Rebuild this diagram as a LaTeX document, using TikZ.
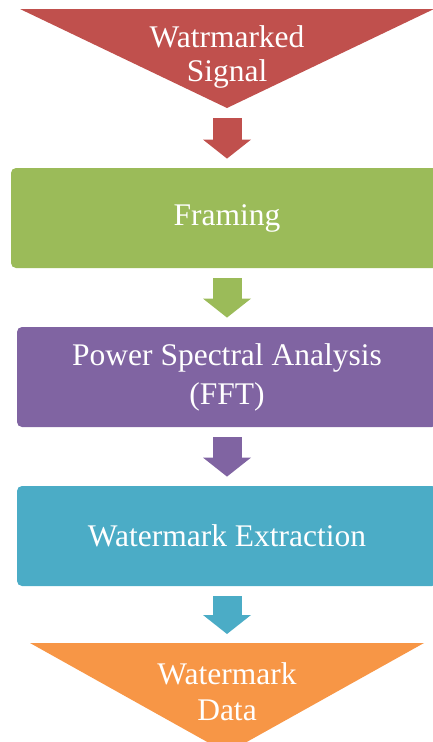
\documentclass[tikz,border=0pt]{standalone}
\usepackage{fontspec}
\setmainfont{Liberation Serif}
\usetikzlibrary{arrows.meta}

\definecolor{sigred}{HTML}{C0504D}
\definecolor{frmgreen}{HTML}{9BBB59}
\definecolor{psdpurple}{HTML}{8064A2}
\definecolor{extteal}{HTML}{4BACC6}
\definecolor{datorange}{HTML}{F79646}

\begin{document}
\begin{tikzpicture}[x=1pt, y=-1pt, thick,
    every node/.style={text=white, align=center, font=\fontsize{31.5}{35}\selectfont},
    stepbox/.style={rounded corners=5pt, minimum height=100pt},
    flow/.style={line width=29pt, shorten <=10pt, shorten >=9pt,
        -{Triangle[length=19pt, width=48pt, line width=0pt]}}]
    \useasboundingbox (0,0) rectangle (433,742);
    \clip (0,0) rectangle (433,742);

    % ==================== input ====================
    \fill[sigred] (20,9) -- (434,9) -- (227,108) -- cycle;
    \coordinate (sigtip) at (227,108);
    \node[font=\fontsize{31.5}{34}\selectfont] (sig) at (227,57) {Watrmarked\\Signal};

    % ==================== steps ====================
    \node[stepbox, fill=frmgreen, minimum width=432pt] (frm) at (227,218) {Framing};
    \node[stepbox, fill=psdpurple, minimum width=420pt, font=\fontsize{31.5}{39}\selectfont]
        (psd) at (227,377) {Power Spectral Analysis\\(FFT)};
    \node[stepbox, fill=extteal, minimum width=420pt] (ext) at (227,536) {Watermark Extraction};

    % ==================== output ====================
    \fill[datorange] (30,643) -- (424,643) -- (227,753) -- cycle;
    \coordinate (dattop) at (227,643);
    \node[font=\fontsize{31.5}{36}\selectfont] (dat) at (227,692) {Watermark\\Data};

    % arrows
    \draw[flow, sigred] (sigtip) -- (frm);
    \draw[flow, frmgreen] (frm) -- (psd);
    \draw[flow, psdpurple] (psd) -- (ext);
    \draw[flow, extteal] (ext) -- (dattop);
\end{tikzpicture}
\end{document}
